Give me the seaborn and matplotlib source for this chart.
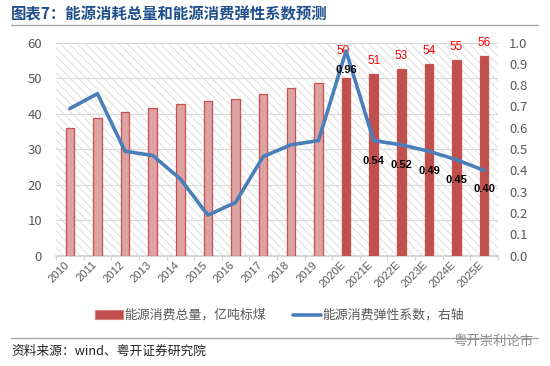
import matplotlib
matplotlib.use("Agg")
import matplotlib.pyplot as plt
import matplotlib.ticker as mticker
from matplotlib.patches import Patch
from matplotlib.lines import Line2D
from matplotlib.transforms import ScaledTranslation
import numpy as np
import pandas as pd
import seaborn as sns

years = ["2010","2011","2012","2013","2014","2015","2016","2017","2018","2019",
         "2020E","2021E","2022E","2023E","2024E","2025E"]
energy = [36.0,38.8,40.4,41.7,42.8,43.4,44.1,45.5,47.2,48.7,50.0,51.2,52.5,54.0,55.0,56.3]
elastic = [0.69,0.76,0.49,0.47,0.36,0.19,0.25,0.465,0.52,0.54,0.96,0.54,0.52,0.49,0.45,0.40]
bar_labels = ["50","51","53","54","55","56"]
line_labels = ["0.96","0.54","0.52","0.49","0.45","0.40"]
title = "图表7：能源消耗总量和能源消费弹性系数预测"
legend_bar = "能源消费总量，亿吨标煤"
legend_line = "能源消费弹性系数，右轴"
source = "资料来源：wind、粤开证券研究院"
watermark = "粤开崇利论市"

sns.set_theme(style="white")
plt.rcParams['font.family'] = ['Noto Sans CJK SC', 'DejaVu Sans']
plt.rcParams['hatch.linewidth'] = 0.7
plt.rcParams['hatch.color'] = '#dedede'

W, H = 550, 366
fig = plt.figure(figsize=(W/100, H/100), dpi=100)
ax = fig.add_axes([56/W, 1-255.7/H, 442/W, 213.2/H])
ax.set_facecolor('white')
ax.patch.set_hatch('\\\\\\\\')
ax.patch.set_edgecolor('#dedede')

df = pd.DataFrame({"year": years, "energy": energy, "elastic": elastic})
df["kind"] = ["hist"]*10 + ["fc"]*6
sns.barplot(data=df, x="year", y="energy", hue="kind", dodge=False, width=0.31,
            palette={"hist": "#dca3a2", "fc": "#c0504d"}, legend=False, ax=ax,
            edgecolor="#c9504d", linewidth=0.9, saturation=1, zorder=3)
ax.set_ylim(0, 60)
ax.set_xlim(-0.5, 15.5)
ax.set_xlabel(""); ax.set_ylabel("")
ax.yaxis.grid(True, color='#d9d9d9', lw=0.8, zorder=1)
ax.set_axisbelow(True)
for s in ax.spines.values():
    s.set_visible(False)
ax.spines['bottom'].set_visible(True)
ax.spines['bottom'].set_color('#d0d0d0')
ax.set_yticks(range(0, 61, 10))
ax.tick_params(axis='y', length=0, labelsize=9.5, labelcolor='#595959', pad=10)
ax.set_xticks(range(16))
ax.set_xticklabels(years, rotation=45, ha='right', rotation_mode='anchor', fontsize=8,
                   color='#595959', family=['Liberation Sans'])
ax.tick_params(axis='x', which='major', length=0, pad=3)
for lab in ax.get_xticklabels():
    lab.set_transform(lab.get_transform() + ScaledTranslation(-6/100, 0, fig.dpi_scale_trans))
ax.xaxis.set_minor_locator(mticker.FixedLocator(np.arange(-0.5, 16, 1)))
ax.tick_params(axis='x', which='minor', length=3, width=0.8, color='#d0d0d0', bottom=True)

ax2 = ax.twinx()
sns.lineplot(data=df, x="year", y="elastic", color="#4a7ebb", lw=2.6, ax=ax2,
             sort=False, errorbar=None, zorder=5)
ax2.set_ylim(0, 1)
ax2.set_xlabel(""); ax2.set_ylabel("")
ax2.set_yticks([i/10 for i in range(11)])
ax2.yaxis.set_major_formatter(mticker.FormatStrFormatter('%.1f'))
ax2.tick_params(axis='y', length=0, labelsize=9.5, labelcolor='#595959', pad=8)
for s in ax2.spines.values():
    s.set_visible(False)

for i, lab in enumerate(bar_labels):
    ax.annotate(lab, (10+i, energy[10+i]), xytext=(-2 if i == 0 else 0, 5 if i else 15.5),
                textcoords='offset points', ha='center', va='bottom', color='#ff0000',
                fontsize=8.5, family=['Liberation Sans'], zorder=6)
offs = [(0, -17), (0, -18), (0, -18), (0, -18), (0, -18), (0, -17)]
for i, lab in enumerate(line_labels):
    ax2.annotate(lab, (10+i, elastic[10+i]), xytext=offs[i], textcoords='offset points',
                 ha='center', va='bottom', color='black', fontweight='bold',
                 fontsize=8, family=['Liberation Sans'], zorder=6)

fig.text(11/W, 1-14.5/H, title, color='#1f4e8c', fontsize=11.1, fontweight='bold', va='center', ha='left')
fig.add_artist(Line2D([11/W, 538/W], [1-24.5/H]*2, color='#a6a6a6', lw=1))
fig.add_artist(Line2D([11/W, 538/W], [1-338/H]*2, color='#a6a6a6', lw=1))
fig.text(11/W, 1-351/H, source, color='#222222', fontsize=9.15, va='center', ha='left', style='italic')
fig.text(453/W, 1-341/H, watermark, color='#8c8c8c', fontsize=9.6, va='center', ha='left', zorder=5)

handles = [Patch(facecolor='#c0504d', edgecolor='#d9807d', lw=0.8),
           Line2D([], [], color='#4a7ebb', lw=2.6)]
fig.legend(handles, [legend_bar, legend_line], ncol=2, frameon=False, fontsize=9.3,
           loc='center', bbox_to_anchor=(279.5/W, 1-315.5/H), labelcolor='#595959',
           handlelength=2.2, handleheight=0.6, columnspacing=2.1, handletextpad=0.1)

fig.savefig("out.png", dpi=100)
